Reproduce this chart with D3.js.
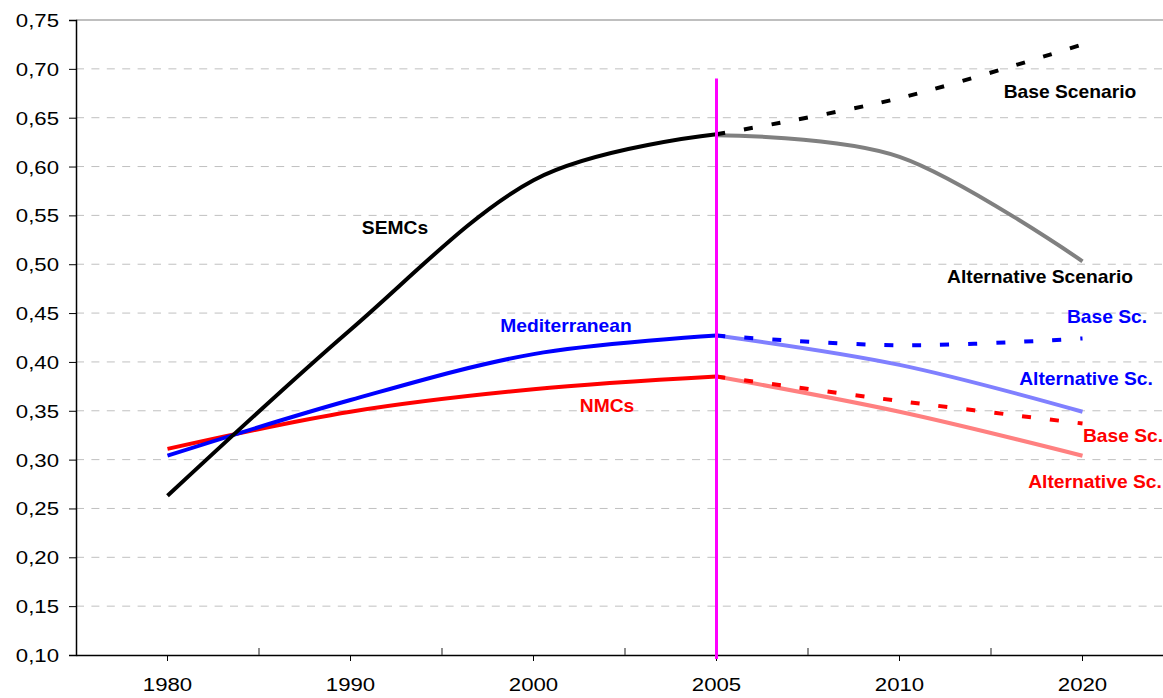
<!DOCTYPE html>
<html>
<head>
<meta charset="utf-8">
<script src="https://cdn.jsdelivr.net/npm/d3@7"></script>
<style>
  body { margin: 0; background: #fff; }
  svg { display: block; }
</style>
</head>
<body>
<script>
// categories on the x axis
const years = ['1980', '1990', '2000', '2005', '2010', '2020'];
const yTicks = [0.10, 0.15, 0.20, 0.25, 0.30, 0.35, 0.40, 0.45, 0.50, 0.55, 0.60, 0.65, 0.70, 0.75];

// historical series
const semcs = [0.263, 0.433, 0.586, 0.633, null, null];
const med = [0.304, 0.361, 0.408, 0.427, null, null];
const nmcs = [0.311, 0.349, 0.372, 0.385, null, null];

// scenarios from 2005
const semcsBase = [null, null, null, 0.633, 0.670, 0.725];
const semcsAlt = [null, null, null, 0.632, 0.610, 0.503];
const medBase = [null, null, null, 0.427, 0.417, 0.424];
const medAlt = [null, null, null, 0.427, 0.397, 0.349];
const nmcsBase = [null, null, null, 0.385, 0.360, 0.337];
const nmcsAlt = [null, null, null, 0.385, 0.349, 0.304];

const width = 1163, height = 698;
const plotLeft = 76, plotTop = 20, plotBottom = 655;
const band = 183;

const svg = d3.select('body').append('svg')
    .attr('width', width)
    .attr('height', height);

const x = d3.scaleBand()
    .domain(years)
    .range([plotLeft, plotLeft + band * years.length]);

const y = d3.scaleLinear()
    .domain([0.10, 0.75])
    .range([plotBottom, plotTop]);

const fmt = d => d.toFixed(2).replace('.', ',');

// gridlines
svg.append('g')
    .selectAll('line')
    .data(yTicks.slice(1, -1))
    .enter().append('line')
        .attr('x1', plotLeft)
        .attr('x2', width)
        .attr('y1', d => y(d))
        .attr('y2', d => y(d))
        .attr('stroke', '#c0c0c0')
        .attr('stroke-width', 1)
        .attr('stroke-dasharray', '8,7.4');

// top border line
svg.append('line')
    .attr('x1', plotLeft).attr('x2', width)
    .attr('y1', y(0.75)).attr('y2', y(0.75))
    .attr('stroke', '#808080')
    .attr('stroke-width', 1.2);

// y axis
const yAxis = svg.append('g')
    .attr('transform', `translate(${plotLeft},0)`)
    .call(d3.axisLeft(y).tickValues(yTicks).tickFormat(fmt).tickSizeOuter(0).tickSize(7));
yAxis.select('.domain').attr('stroke', '#000').attr('stroke-width', 1.5);
yAxis.selectAll('.tick line').attr('stroke', '#000');
yAxis.selectAll('.tick text')
    .attr('x', 0)
    .attr('dy', '0.35em')
    .style('font-family', 'Liberation Sans, Arial, sans-serif')
    .style('font-size', '18.5px')
    .attr('fill', '#000')
    .attr('text-anchor', 'end')
    .attr('transform', 'translate(-17,0) scale(1.2,1)');

// x axis
const xAxis = svg.append('g')
    .attr('transform', `translate(0,${plotBottom})`)
    .call(d3.axisBottom(x).tickSize(6).tickSizeOuter(0));
xAxis.select('.domain').attr('stroke', '#000').attr('stroke-width', 1.5);
xAxis.selectAll('.tick line').attr('stroke', '#000');
xAxis.selectAll('.tick text')
    .attr('y', 0)
    .attr('dy', 0)
    .style('font-family', 'Liberation Sans, Arial, sans-serif')
    .style('font-size', '18.5px')
    .attr('fill', '#000')
    .attr('transform', 'translate(0,36) scale(1.2,1)');

// ticks between categories (pointing up)
svg.append('g')
    .selectAll('line')
    .data(years.slice(1))
    .enter().append('line')
        .attr('x1', d => x(d))
        .attr('x2', d => x(d))
        .attr('y1', plotBottom)
        .attr('y2', plotBottom - 7)
        .attr('stroke', '#444')
        .attr('stroke-width', 1.2);

const line = d3.line()
    .defined(d => d != null)
    .x((d, i) => x(years[i]) + x.bandwidth() / 2)
    .y(d => y(d))
    .curve(d3.curveCatmullRom.alpha(0));

const series = [
    { data: nmcsAlt, color: '#ff8080', dash: null },
    { data: medAlt, color: '#8080ff', dash: null },
    { data: semcsAlt, color: '#808080', dash: null },
    { data: nmcsBase, color: '#ff0000', dash: '9,19' },
    { data: medBase, color: '#0000ff', dash: '9,19' },
    { data: semcsBase, color: '#000000', dash: '9,19' },
    { data: nmcs, color: '#ff0000', dash: null },
    { data: med, color: '#0000ff', dash: null },
    { data: semcs, color: '#000000', dash: null }
];

svg.append('g')
    .selectAll('path')
    .data(series)
    .enter().append('path')
        .attr('d', s => line(s.data))
        .attr('fill', 'none')
        .attr('stroke', s => s.color)
        .attr('stroke-width', 4)
        .attr('stroke-dasharray', s => s.dash)
        .attr('stroke-linejoin', 'round');

// vertical marker at 2005
const x2005 = x('2005') + x.bandwidth() / 2;
svg.append('line')
    .attr('x1', x2005).attr('x2', x2005)
    .attr('y1', y(0.69)).attr('y2', plotBottom + 4)
    .attr('stroke', '#ff00ff')
    .attr('stroke-width', 3);

// series labels
const labels = [
    { text: 'SEMCs', x: 395, y: 234, color: '#000' },
    { text: 'Mediterranean', x: 566, y: 332, color: '#0000ff' },
    { text: 'NMCs', x: 607, y: 412, color: '#ff0000' },
    { text: 'Base Scenario', x: 1070, y: 98, color: '#000' },
    { text: 'Alternative Scenario', x: 1040, y: 283, color: '#000' },
    { text: 'Base Sc.', x: 1107, y: 323, color: '#0000ff' },
    { text: 'Alternative Sc.', x: 1086, y: 385, color: '#0000ff' },
    { text: 'Base Sc.', x: 1123, y: 442, color: '#ff0000' },
    { text: 'Alternative Sc.', x: 1095, y: 488, color: '#ff0000' }
];

svg.append('g')
    .selectAll('text')
    .data(labels)
    .enter().append('text')
        .attr('transform', d => `translate(${d.x},${d.y}) scale(1.1,1)`)
        .attr('text-anchor', 'middle')
        .style('font-family', 'Liberation Sans, Arial, sans-serif')
        .style('font-size', '17.5px')
        .style('font-weight', 'bold')
        .attr('fill', d => d.color)
        .text(d => d.text);
</script>
</body>
</html>
